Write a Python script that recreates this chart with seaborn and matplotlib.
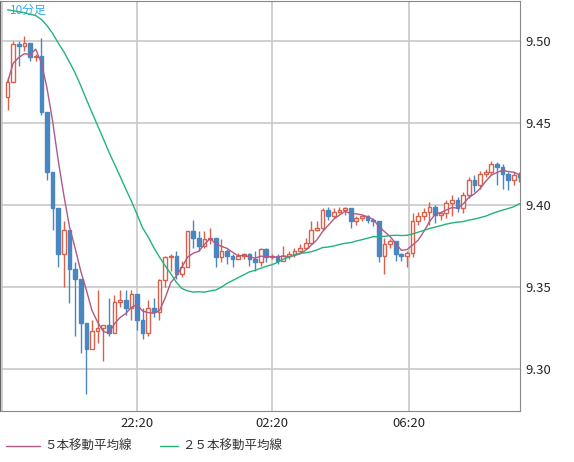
import numpy as np
import pandas as pd
import seaborn as sns
import matplotlib
matplotlib.use("Agg")
import matplotlib.pyplot as plt

# 10-minute candles (prices)
closes = [9.475, 9.498, 9.497, 9.499, 9.490, 9.491, 9.457, 9.420, 9.398, 9.370,
          9.385, 9.361, 9.355, 9.328, 9.312, 9.323, 9.325, 9.327, 9.322, 9.341,
          9.342, 9.337, 9.346, 9.330, 9.322, 9.337, 9.335, 9.354, 9.368, 9.369,
          9.358, 9.362, 9.384, 9.380, 9.375, 9.379, 9.380, 9.368, 9.372, 9.369,
          9.367, 9.369, 9.370, 9.367, 9.365, 9.373, 9.368, 9.369, 9.366, 9.369,
          9.370, 9.372, 9.374, 9.377, 9.385, 9.386, 9.397, 9.393, 9.396, 9.397,
          9.398, 9.390, 9.392, 9.393, 9.391, 9.390, 9.369, 9.376, 9.378, 9.370,
          9.369, 9.371, 9.390, 9.393, 9.396, 9.399, 9.394, 9.395, 9.401, 9.403,
          9.398, 9.406, 9.415, 9.412, 9.419, 9.420, 9.425, 9.423, 9.419, 9.415,
          9.418, 9.417]
first_open = 9.466
highs = [9.478, 9.500, 9.500, 9.503, 9.499, 9.492, 9.502, 9.457, 9.401, 9.379,
         9.390, 9.370, 9.365, 9.341, 9.328, 9.330, 9.348, 9.327, 9.343, 9.345,
         9.348, 9.348, 9.348, 9.345, 9.337, 9.342, 9.343, 9.355, 9.369, 9.370,
         9.372, 9.366, 9.384, 9.391, 9.384, 9.384, 9.386, 9.379, 9.379, 9.373,
         9.370, 9.371, 9.371, 9.371, 9.372, 9.374, 9.374, 9.370, 9.370, 9.375,
         9.372, 9.374, 9.376, 9.380, 9.390, 9.390, 9.398, 9.399, 9.398, 9.399,
         9.399, 9.397, 9.393, 9.394, 9.394, 9.392, 9.390, 9.380, 9.379, 9.378,
         9.371, 9.372, 9.395, 9.396, 9.398, 9.402, 9.400, 9.396, 9.403, 9.406,
         9.405, 9.408, 9.417, 9.418, 9.421, 9.422, 9.427, 9.426, 9.425, 9.420,
         9.420, 9.420]
lows = [9.458, 9.480, 9.485, 9.494, 9.488, 9.488, 9.455, 9.415, 9.385, 9.362,
        9.350, 9.340, 9.320, 9.310, 9.285, 9.315, 9.316, 9.305, 9.320, 9.322,
        9.338, 9.333, 9.330, 9.324, 9.318, 9.320, 9.332, 9.330, 9.350, 9.360,
        9.355, 9.356, 9.365, 9.374, 9.372, 9.374, 9.376, 9.362, 9.365, 9.364,
        9.362, 9.367, 9.367, 9.363, 9.360, 9.363, 9.365, 9.367, 9.364, 9.366,
        9.367, 9.368, 9.371, 9.374, 9.383, 9.384, 9.385, 9.391, 9.392, 9.395,
        9.394, 9.386, 9.388, 9.390, 9.389, 9.387, 9.365, 9.358, 9.374, 9.366,
        9.366, 9.362, 9.368, 9.388, 9.391, 9.388, 9.389, 9.391, 9.392, 9.393,
        9.396, 9.395, 9.404, 9.408, 9.410, 9.417, 9.418, 9.412, 9.410, 9.409,
        9.412, 9.414]
# closes before the visible window, needed for the 25-bar average
prior_closes = [9.512, 9.513, 9.514, 9.513, 9.512, 9.514, 9.515, 9.516, 9.517, 9.518,
                9.519, 9.520, 9.521, 9.522, 9.523, 9.524, 9.525, 9.526, 9.527, 9.528,
                9.529, 9.530, 9.531, 9.532]
tick_pos = [23, 47, 71.3]
tick_labels = ["22:20", "02:20", "06:20"]

RED = "#d9604a"
BLUE = "#4a86c0"
PURPLE = "#b05a86"
GREEN = "#22b478"
GRID = "#c8c8c8"

n = len(closes)
opens = [first_open] + closes[:-1]
full = pd.Series(prior_closes + closes)
df = pd.DataFrame({"i": np.arange(n), "open": opens, "close": closes,
                   "high": highs, "low": lows})
df["ma5"] = pd.Series(closes).rolling(5, min_periods=1).mean().values
df["ma25"] = full.rolling(25).mean().iloc[len(prior_closes):].values

sns.set_style("white")
plt.rcParams["font.family"] = ["Noto Sans CJK JP", "DejaVu Sans"]

fig = plt.figure(figsize=(5.74, 4.62), dpi=100)
ax = fig.add_axes([0.0, 1 - 411 / 462, 520 / 574, 410 / 462])

for x in [-1.0] + tick_pos:
    ax.axvline(x, color=GRID, lw=1.2, zorder=0)
for y in [9.30, 9.35, 9.40, 9.45, 9.50]:
    ax.axhline(y, color=GRID, lw=1.2, zorder=0)

for _, r in df.iterrows():
    up = r["close"] >= r["open"]
    col = RED if up else BLUE
    lo, hi = min(r["open"], r["close"]), max(r["open"], r["close"])
    ax.vlines(r["i"], min(r["low"], lo), max(r["high"], hi), color=col, lw=1, zorder=2)
    h = max(hi - lo, 0.0008)
    ax.bar(r["i"], h, bottom=lo, width=0.65, zorder=3,
           color="white" if up else col, edgecolor=col, linewidth=1)

sns.lineplot(data=df, x="i", y="ma5", color=PURPLE, lw=1, ax=ax, zorder=4)
sns.lineplot(data=df, x="i", y="ma25", color=GREEN, lw=1, ax=ax, zorder=4)

ax.set_xlim(-1.35, 91.1)
ax.set_ylim(9.2744, 9.5244)
ax.set_xticks(tick_pos)
ax.set_xticklabels(tick_labels, fontsize=9.5)
ax.set_yticks([9.30, 9.35, 9.40, 9.45, 9.50])
ax.set_yticklabels(["9.30", "9.35", "9.40", "9.45", "9.50"], fontsize=9.5)
ax.yaxis.tick_right()
ax.tick_params(length=0, pad=4)
ax.set_xlabel("")
ax.set_ylabel("")
for s in ["top", "bottom", "left", "right"]:
    ax.spines[s].set_color("#888888")
ax.spines["left"].set_color("#666666")

ax.text(0.02, 0.992, "10分足", transform=ax.transAxes, ha="left", va="top",
        fontsize=8.5, color="#33aaee")

# legend row
fig.lines.append(plt.Line2D([6 / 574, 40 / 574], [1 - 446 / 462] * 2, color=PURPLE, lw=1,
                            transform=fig.transFigure))
fig.text(44 / 574, 1 - 446 / 462, "５本移動平均線", fontsize=9, va="center", color="#333333")
fig.lines.append(plt.Line2D([160 / 574, 178 / 574], [1 - 446 / 462] * 2, color=GREEN, lw=1,
                            transform=fig.transFigure))
fig.text(182 / 574, 1 - 446 / 462, "２５本移動平均線", fontsize=9, va="center", color="#333333")

fig.savefig("out.png", dpi=100)
